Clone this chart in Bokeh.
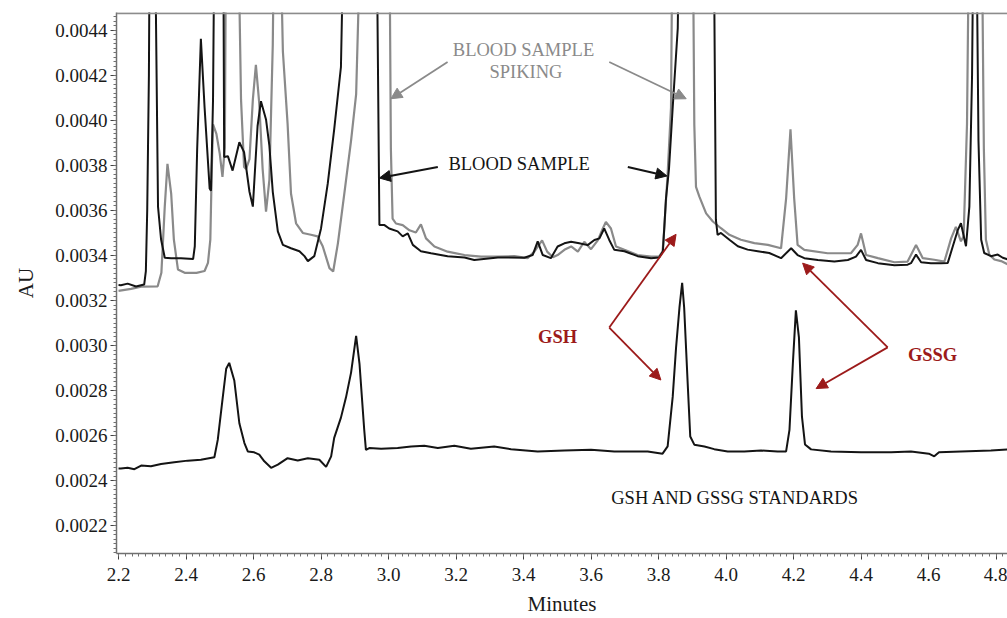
from bokeh.plotting import figure
from bokeh.models import (SingleIntervalTicker, PrintfTickFormatter, Arrow, NormalHead,
                          Label, Span, Range1d)
from bokeh.embed import file_html
from bokeh.resources import INLINE

# ---- data (minutes, AU) ----
blood_t = [2.200, 2.207, 2.227, 2.252, 2.276, 2.281, 2.285, 2.290, 2.293, 2.307, 2.317, 2.326,
           2.337, 2.356, 2.385, 2.421, 2.426, 2.433, 2.444, 2.455, 2.470, 2.474, 2.480, 2.485,
           2.510, 2.513, 2.524, 2.538, 2.558, 2.572, 2.588, 2.598, 2.612, 2.622, 2.637, 2.647,
           2.657, 2.672, 2.687, 2.711, 2.736, 2.751, 2.761, 2.780, 2.800, 2.820, 2.839, 2.859,
           2.869, 2.964, 2.973, 2.988, 3.002, 3.027, 3.042, 3.057, 3.072, 3.096, 3.126, 3.175,
           3.225, 3.254, 3.324, 3.402, 3.427, 3.442, 3.457, 3.481, 3.501, 3.521, 3.541, 3.565,
           3.590, 3.610, 3.625, 3.639, 3.654, 3.669, 3.699, 3.738, 3.778, 3.802, 3.813, 3.822,
           3.831, 3.842, 3.857, 3.862, 3.963, 3.970, 3.975, 3.985, 4.010, 4.035, 4.064, 4.094,
           4.128, 4.163, 4.193, 4.212, 4.232, 4.272, 4.321, 4.361, 4.385, 4.400, 4.415, 4.450,
           4.499, 4.538, 4.548, 4.563, 4.578, 4.607, 4.637, 4.657, 4.672, 4.687, 4.696, 4.711,
           4.721, 4.729, 4.734, 4.741, 4.748, 4.756, 4.765, 4.785, 4.805, 4.820, 4.836]
blood_au = [0.003269, 0.003268, 0.003275, 0.003262, 0.003271, 0.003330, 0.003600, 0.004200,
            0.005000, 0.005000, 0.003617, 0.003472, 0.003390, 0.003388, 0.003388, 0.003384,
            0.003441, 0.003872, 0.004362, 0.004057, 0.003697, 0.003687, 0.004092, 0.005000,
            0.005000, 0.003837, 0.003841, 0.003777, 0.003903, 0.003859, 0.003683, 0.003617,
            0.003975, 0.004085, 0.004004, 0.003887, 0.003683, 0.003507, 0.003447, 0.003432,
            0.003419, 0.003397, 0.003375, 0.003397, 0.003520, 0.003720, 0.003960, 0.004237,
            0.005000, 0.005000, 0.003535, 0.003535, 0.003520, 0.003507, 0.003485, 0.003498,
            0.003447, 0.003419, 0.003410, 0.003397, 0.003391, 0.003380, 0.003391, 0.003390,
            0.003402, 0.003463, 0.003402, 0.003388, 0.003440, 0.003454, 0.003461, 0.003454,
            0.003446, 0.003469, 0.003476, 0.003520, 0.003469, 0.003425, 0.003419, 0.003397,
            0.003388, 0.003391, 0.003419, 0.003652, 0.003784, 0.004057, 0.004409, 0.005000,
            0.005000, 0.003558, 0.003492, 0.003500, 0.003470, 0.003441, 0.003426, 0.003419,
            0.003411, 0.003388, 0.003432, 0.003402, 0.003388, 0.003380, 0.003373, 0.003380,
            0.003395, 0.003425, 0.003380, 0.003366, 0.003357, 0.003359, 0.003366, 0.003404,
            0.003370, 0.003366, 0.003366, 0.003367, 0.003441, 0.003514, 0.003543, 0.003441,
            0.003617, 0.004203, 0.005000, 0.005000, 0.003910, 0.003470, 0.003411, 0.003397,
            0.003404, 0.003390, 0.003382]

spike_t = [2.200, 2.237, 2.267, 2.316, 2.327, 2.337, 2.345, 2.356, 2.364, 2.376, 2.396, 2.431,
           2.455, 2.465, 2.472, 2.476, 2.480, 2.490, 2.500, 2.508, 2.515, 2.519, 2.553, 2.563,
           2.572, 2.578, 2.588, 2.598, 2.607, 2.617, 2.627, 2.637, 2.647, 2.657, 2.662, 2.677,
           2.687, 2.701, 2.711, 2.726, 2.746, 2.770, 2.790, 2.805, 2.825, 2.836, 2.850, 2.869,
           2.889, 2.904, 2.920, 3.002, 3.007, 3.012, 3.022, 3.042, 3.062, 3.081, 3.096, 3.111,
           3.136, 3.175, 3.225, 3.274, 3.324, 3.373, 3.412, 3.432, 3.455, 3.470, 3.487, 3.501,
           3.521, 3.541, 3.561, 3.580, 3.600, 3.620, 3.635, 3.644, 3.659, 3.674, 3.699, 3.738,
           3.778, 3.801, 3.812, 3.817, 3.827, 3.837, 3.842, 3.901, 3.906, 3.911, 3.921, 3.941,
           3.961, 3.985, 4.010, 4.044, 4.084, 4.124, 4.163, 4.178, 4.191, 4.202, 4.212, 4.232,
           4.301, 4.370, 4.390, 4.400, 4.415, 4.450, 4.499, 4.538, 4.563, 4.583, 4.617, 4.647,
           4.667, 4.681, 4.696, 4.704, 4.714, 4.721, 4.757, 4.764, 4.770, 4.780, 4.795, 4.815,
           4.836]
spike_au = [0.003243, 0.003252, 0.003262, 0.003263, 0.003323, 0.003617, 0.003807, 0.003675,
            0.003470, 0.003338, 0.003323, 0.003323, 0.003331, 0.003367, 0.003470, 0.003763,
            0.003982, 0.003940, 0.003851, 0.003749, 0.003881, 0.005000, 0.005000, 0.004092,
            0.003793, 0.003784, 0.003828, 0.004092, 0.004246, 0.004074, 0.003784, 0.003595,
            0.003736, 0.004334, 0.005000, 0.005000, 0.004306, 0.003983, 0.003675, 0.003543,
            0.003500, 0.003492, 0.003485, 0.003441, 0.003344, 0.003329, 0.003454, 0.003675,
            0.003910, 0.004115, 0.005000, 0.005000, 0.003872, 0.003564, 0.003542, 0.003535,
            0.003512, 0.003502, 0.003538, 0.003476, 0.003440, 0.003417, 0.003402, 0.003395,
            0.003395, 0.003397, 0.003388, 0.003417, 0.003467, 0.003417, 0.003392, 0.003402,
            0.003425, 0.003440, 0.003417, 0.003461, 0.003428, 0.003467, 0.003520, 0.003549,
            0.003520, 0.003440, 0.003425, 0.003402, 0.003395, 0.003395, 0.003417, 0.003520,
            0.003763, 0.004057, 0.005000, 0.005000, 0.003983, 0.003705, 0.003661, 0.003587,
            0.003551, 0.003521, 0.003492, 0.003470, 0.003455, 0.003447, 0.003432, 0.003652,
            0.003960, 0.003652, 0.003447, 0.003425, 0.003410, 0.003410, 0.003447, 0.003498,
            0.003402, 0.003388, 0.003370, 0.003373, 0.003447, 0.003388, 0.003381, 0.003373,
            0.003476, 0.003527, 0.003463, 0.003485, 0.003983, 0.005000, 0.005000, 0.003872,
            0.003470, 0.003404, 0.003382, 0.003375, 0.003360]

std_t = [2.200, 2.207, 2.227, 2.247, 2.267, 2.296, 2.326, 2.365, 2.405, 2.444, 2.484, 2.494,
         2.509, 2.519, 2.528, 2.543, 2.558, 2.573, 2.583, 2.602, 2.617, 2.632, 2.652, 2.672,
         2.701, 2.731, 2.761, 2.795, 2.815, 2.830, 2.839, 2.859, 2.874, 2.889, 2.904, 2.914,
         2.928, 2.933, 2.943, 2.978, 3.027, 3.067, 3.106, 3.146, 3.195, 3.244, 3.313, 3.363,
         3.442, 3.521, 3.600, 3.669, 3.768, 3.812, 3.827, 3.842, 3.852, 3.862, 3.870, 3.876,
         3.886, 3.894, 3.906, 3.936, 3.965, 4.005, 4.054, 4.104, 4.153, 4.178, 4.188, 4.198,
         4.207, 4.216, 4.225, 4.234, 4.252, 4.311, 4.400, 4.489, 4.548, 4.601, 4.617, 4.631,
         4.696, 4.785, 4.836]
std_au = [0.002454, 0.002454, 0.002457, 0.002451, 0.002467, 0.002464, 0.002474, 0.002482,
          0.002489, 0.002493, 0.002504, 0.002581, 0.002772, 0.002897, 0.002923, 0.002845,
          0.002655, 0.002567, 0.002530, 0.002526, 0.002516, 0.002486, 0.002457, 0.002471,
          0.002500, 0.002490, 0.002500, 0.002493, 0.002461, 0.002508, 0.002590, 0.002680,
          0.002770, 0.002880, 0.003043, 0.002919, 0.002626, 0.002537, 0.002545, 0.002542,
          0.002545, 0.002552, 0.002555, 0.002545, 0.002555, 0.002542, 0.002552, 0.002540,
          0.002530, 0.002534, 0.002537, 0.002530, 0.002530, 0.002520, 0.002552, 0.002772,
          0.002992, 0.003168, 0.003278, 0.003168, 0.002845, 0.002596, 0.002560, 0.002552,
          0.002540, 0.002530, 0.002530, 0.002534, 0.002530, 0.002530, 0.002626, 0.002919,
          0.003156, 0.003036, 0.002684, 0.002561, 0.002539, 0.002530, 0.002526, 0.002526,
          0.002530, 0.002520, 0.002508, 0.002526, 0.002530, 0.002534, 0.002539]

FONT = "'Liberation Serif', 'Times New Roman', serif"
RED = "#9c1a1a"
GRAY = "#8a8a8a"
BLACK = "#141414"

p = figure(width=1007, height=618, x_range=Range1d(2.194, 4.834),
           y_range=Range1d(0.0020766, 0.004479),
           output_backend="svg", toolbar_location=None,
           min_border_left=116, min_border_right=0, min_border_top=12, min_border_bottom=60)
p.grid.visible = False
p.outline_line_color = None
p.background_fill_color = "white"
p.border_fill_color = "white"

p.add_layout(Span(location=0.004476, dimension="width", line_color="#8c8c8c", line_width=2))

p.xaxis.ticker = SingleIntervalTicker(interval=0.2, num_minor_ticks=10)
p.xaxis.formatter = PrintfTickFormatter(format="%.1f")
p.yaxis.ticker = SingleIntervalTicker(interval=0.0002, num_minor_ticks=10)
p.yaxis.formatter = PrintfTickFormatter(format="%.4f")

for ax in (p.xaxis, p.yaxis):
    ax.axis_line_color = "#707070"
    ax.axis_line_width = 1.5
    ax.major_tick_line_color = "#404040"
    ax.minor_tick_line_color = "#707070"
    ax.major_tick_out = 6
    ax.major_tick_in = 0
    ax.minor_tick_out = 3
    ax.minor_tick_in = 0
    ax.major_label_text_font = FONT
    ax.major_label_text_font_size = "19px"
    ax.major_label_text_color = "#1a1a1a"
    ax.axis_label_text_font = FONT
    ax.axis_label_text_font_size = "21px"
    ax.axis_label_text_font_style = "normal"
    ax.axis_label_text_color = "#1a1a1a"

p.xaxis.axis_label = "Minutes"
p.xaxis.major_label_standoff = 8
p.xaxis.axis_label_standoff = 8
p.yaxis.axis_label = "AU"
p.yaxis.major_label_standoff = 3
p.yaxis.axis_label_standoff = 14

p.line(spike_t, spike_au, line_color=GRAY, line_width=2.2)
p.line(blood_t, blood_au, line_color=BLACK, line_width=2.0)
p.line(std_t, std_au, line_color=BLACK, line_width=2.0)


def label(x, y, text, color, bold=False):
    p.add_layout(Label(x=x, y=y, text=text, text_font=FONT, text_font_size="18.5px",
                       text_color=color, text_align="center", text_baseline="middle",
                       text_font_style="bold" if bold else "normal"))


def arrow(x0, y0, x1, y1, color, width=1.8, size=11):
    p.add_layout(Arrow(end=NormalHead(size=size, fill_color=color, line_color=color),
                       x_start=x0, y_start=y0, x_end=x1, y_end=y1,
                       line_color=color, line_width=width))


label(3.400, 0.004312, "BLOOD SAMPLE", GRAY)
label(3.407, 0.004215, "SPIKING", GRAY)
arrow(3.175, 0.004259, 3.007, 0.004096, GRAY)
arrow(3.654, 0.004259, 3.882, 0.004096, GRAY)

label(3.387, 0.003806, "BLOOD SAMPLE", BLACK)
arrow(3.146, 0.003793, 2.973, 0.003744, BLACK, width=2.2)
arrow(3.709, 0.003793, 3.825, 0.003753, BLACK, width=2.2)

label(3.501, 0.003036, "GSH", RED, bold=True)
arrow(3.654, 0.003080, 3.852, 0.003494, RED)
arrow(3.654, 0.003080, 3.807, 0.002847, RED)

label(4.612, 0.002957, "GSSG", RED, bold=True)
arrow(4.479, 0.002992, 4.227, 0.003366, RED)
arrow(4.479, 0.002992, 4.267, 0.002809, RED)

label(4.027, 0.002323, "GSH AND GSSG STANDARDS", BLACK)

open("out.html", "w").write(file_html(p, INLINE))
